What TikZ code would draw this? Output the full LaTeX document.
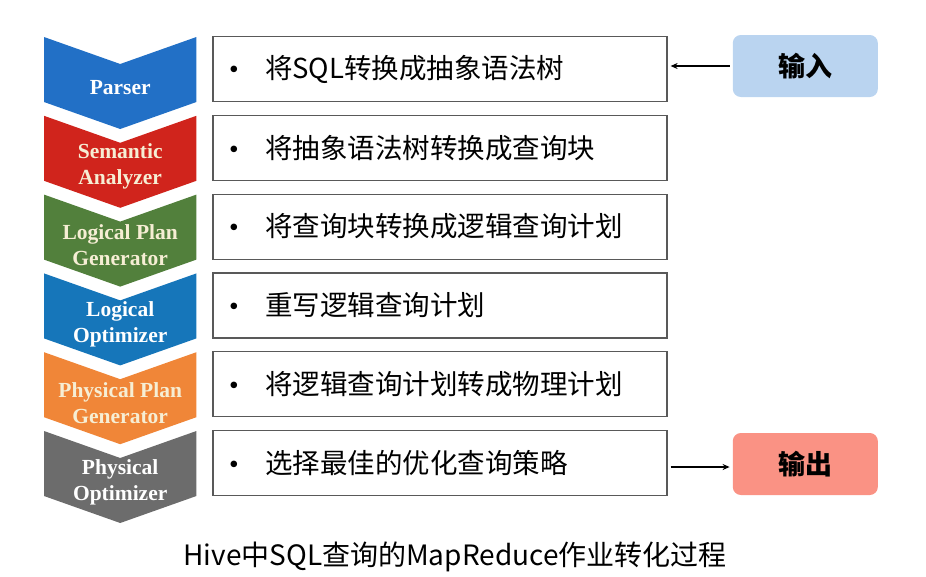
\documentclass[tikz,border=0pt]{standalone}
\usepackage{fontspec}
\setmainfont{Liberation Serif}
\newfontfamily\cjk{Noto Sans CJK SC}
\usetikzlibrary{arrows.meta,positioning,backgrounds}
\definecolor{parsercolor}{RGB}{34,112,198}
\definecolor{semanticcolor}{RGB}{208,36,28}
\definecolor{lplancolor}{RGB}{82,128,60}
\definecolor{loptcolor}{RGB}{22,118,186}
\definecolor{pplancolor}{RGB}{240,134,56}
\definecolor{poptcolor}{RGB}{108,108,108}
\definecolor{creamtext}{RGB}{246,238,212}
\definecolor{incolor}{RGB}{186,212,240}
\definecolor{outcolor}{RGB}{250,146,132}

\begin{document}
\begin{tikzpicture}[x=1pt, y=1pt,
    node distance=12.6pt and 16pt,
    stage/.style={rectangle, minimum width=152pt, inner sep=0pt, align=center, text=white, font=\fontsize{21.5}{26}\selectfont\bfseries},
    stepbox/.style={rectangle, draw=black!65, fill=white, line width=1.2pt, minimum height=65pt, text width=422pt, inner xsep=16pt, align=left, font=\cjk\fontsize{27.5}{32}\selectfont},
    iobox/.style={rectangle, rounded corners=8pt, minimum width=145pt, minimum height=62pt, font=\cjk\bfseries\fontsize{27}{30}\selectfont},
    arrow/.style={-{Stealth[length=7pt, width=6pt]}, line width=1.2pt, shorten >=3pt, shorten <=3pt}
]
    \useasboundingbox (0,0) rectangle (926,-576);

    % steps
    \node[stepbox] (b1) at (440,-69) {\makebox[36pt][l]{\rmfamily\textbullet}将SQL转换成抽象语法树};
    \node[stepbox, below=of b1] (b2) {\makebox[36pt][l]{\rmfamily\textbullet}将抽象语法树转换成查询块};
    \node[stepbox, below=of b2] (b3) {\makebox[36pt][l]{\rmfamily\textbullet}将查询块转换成逻辑查询计划};
    \node[stepbox, below=of b3] (b4) {\makebox[36pt][l]{\rmfamily\textbullet}重写逻辑查询计划};
    \node[stepbox, below=of b4] (b5) {\makebox[36pt][l]{\rmfamily\textbullet}将逻辑查询计划转成物理计划};
    \node[stepbox, below=of b5] (b6) {\makebox[36pt][l]{\rmfamily\textbullet}选择最佳的优化查询策略};

    % stages
    \node[stage, left=of b1, yshift=-19pt] (parser) {Parser};
    \node[stage, text=creamtext, left=of b2, yshift=-19pt] (semantic) {Semantic\\Analyzer};
    \node[stage, text=creamtext, left=of b3, yshift=-19pt] (lplan) {Logical Plan\\Generator};
    \node[stage, left=of b4, yshift=-19pt] (lopt) {Logical\\Optimizer};
    \node[stage, text=creamtext, left=of b5, yshift=-19pt] (pplan) {Physical Plan\\Generator};
    \node[stage, left=of b6, yshift=-19pt] (popt) {Physical\\Optimizer};

    % chevrons behind the stage names
    \begin{scope}[on background layer]
        \foreach \n/\c in {parser/parsercolor, semantic/semanticcolor, lplan/lplancolor, lopt/loptcolor, pplan/pplancolor, popt/poptcolor}
            \fill[\c] ([yshift=51pt]\n.west) -- ([yshift=24pt]\n.center) -- ([yshift=51pt]\n.east)
                -- ([yshift=-14pt]\n.east) -- ([yshift=-41pt]\n.center) -- ([yshift=-14pt]\n.west) -- cycle;
    \end{scope}

    % input / output
    \node[iobox, fill=incolor, right=65pt of b1, yshift=3pt] (in) {输入};
    \node[iobox, fill=outcolor, right=65pt of b6, yshift=-1pt] (out) {输出};

    \draw[arrow] (in.west) -- (in.west -| b1.east);
    \draw[arrow] ([yshift=-3pt]out.west -| b6.east) -- ([yshift=-3pt]out.west);

    \node[font=\cjk\fontsize{28}{30}\selectfont] (caption) at (455,-557) {Hive中SQL查询的MapReduce作业转化过程};
\end{tikzpicture}
\end{document}
